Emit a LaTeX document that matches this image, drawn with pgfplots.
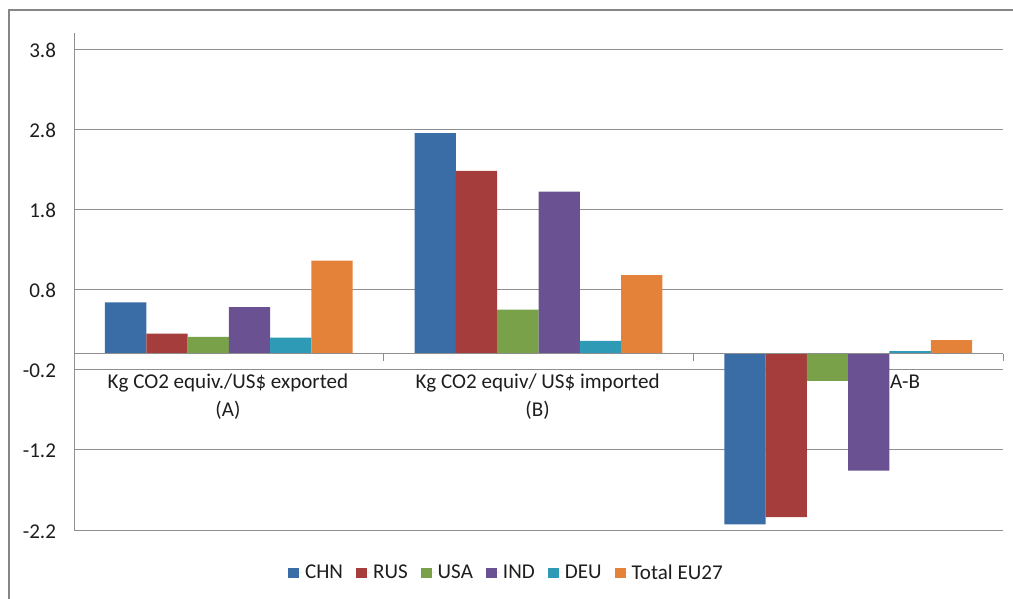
\documentclass[border=0pt]{standalone}
\usepackage{pgfplots}
\pgfplotsset{compat=1.18}
\usepackage{fontspec}
\setmainfont{Carlito}
\definecolor{cchn}{HTML}{3A6CA6}
\definecolor{crus}{HTML}{A63D3D}
\definecolor{cusa}{HTML}{78A14A}
\definecolor{cind}{HTML}{6A5292}
\definecolor{cdeu}{HTML}{2E9AB5}
\definecolor{ceu}{HTML}{E5823A}
\definecolor{cgrid}{HTML}{8E8E8E}
\definecolor{ctext}{HTML}{1E1E1E}
\newcommand{\lblfont}{\fontsize{15.8}{19}\selectfont}
\begin{document}
\begin{tikzpicture}
\useasboundingbox (0,0) rectangle (759.75pt,-449.25pt);
\draw[color=gray!95, line width=1.5pt] (6.5pt,-7.8pt) rectangle (800pt,-500pt);
\begin{axis}[
  at={(55.5pt,-397.5pt)}, anchor=south west,
  scale only axis, width=696.75pt, height=372.75pt,
  xmin=0, xmax=3, ymin=-2.2, ymax=4.0,
  axis x line=none, axis y line=left,
  axis line style={-, draw=cgrid, line width=0.75pt},
  ytick={-2.2,-1.2,-0.2,0.8,1.8,2.8,3.8},
  major tick length=0pt,
  ymajorgrids, grid style={draw=cgrid, line width=0.75pt},
  yticklabel style={/pgf/number format/fixed, /pgf/number format/precision=1,
    /pgf/number format/fixed zerofill, /pgf/number format/assume math mode=true,
    font=\lblfont, text=ctext, anchor=east, xshift=-10pt, yshift=-1pt},
  xtick=\empty,
  clip=false,
  legend columns=6,
  legend style={draw=none, fill=none, font=\lblfont, text=ctext,
    at={(0.466,-0.0865)}, anchor=center,
    /tikz/every even column/.append style={column sep=8pt}},
  legend image code/.code={\fill[#1,draw=none] (0pt,-4pt) rectangle (8pt,4pt); \path (0pt,0pt) -- (10.5pt,0pt);},
]
\addplot[ybar, bar width=0.13333, bar shift=-0.33333, fill=cchn, draw=none]
  coordinates {(0.5,0.64) (1.5,2.75) (2.5,-2.13)};
\addlegendentry{CHN}
\addplot[ybar, bar width=0.13333, bar shift=-0.2, fill=crus, draw=none]
  coordinates {(0.5,0.25) (1.5,2.28) (2.5,-2.04)};
\addlegendentry{RUS}
\addplot[ybar, bar width=0.13333, bar shift=-0.06667, fill=cusa, draw=none]
  coordinates {(0.5,0.21) (1.5,0.55) (2.5,-0.34)};
\addlegendentry{USA}
\addplot[ybar, bar width=0.13333, bar shift=0.06667, fill=cind, draw=none]
  coordinates {(0.5,0.58) (1.5,2.02) (2.5,-1.46)};
\addlegendentry{IND}
\addplot[ybar, bar width=0.13333, bar shift=0.2, fill=cdeu, draw=none]
  coordinates {(0.5,0.20) (1.5,0.16) (2.5,0.03)};
\addlegendentry{DEU}
\addplot[ybar, bar width=0.13333, bar shift=0.33333, fill=ceu, draw=none]
  coordinates {(0.5,1.16) (1.5,0.98) (2.5,0.17)};
\addlegendentry{Total EU27}
% horizontal axis at zero with category boundary ticks
\draw[cgrid, line width=0.75pt] (axis cs:0,0) -- (axis cs:3,0);
\draw[cgrid, line width=0.75pt] (axis cs:1,0) -- ++(0pt,-5.5pt);
\draw[cgrid, line width=0.75pt] (axis cs:2,0) -- ++(0pt,-5.5pt);
\draw[cgrid, line width=0.75pt] (axis cs:3,0) -- ++(0pt,-5.5pt);
% category labels
\node[font=\lblfont, text=ctext, anchor=base, inner sep=0pt] at ([yshift=-26.3pt]axis cs:0.497,0) {Kg CO2 equiv./US\$ exported};
\node[font=\lblfont, text=ctext, anchor=base, inner sep=0pt] at ([yshift=-47.4pt]axis cs:0.497,0) {(A)};
\node[font=\lblfont, text=ctext, anchor=base, inner sep=0pt] at ([yshift=-26.3pt]axis cs:1.497,0) {Kg CO2 equiv/ US\$ imported};
\node[font=\lblfont, text=ctext, anchor=base, inner sep=0pt] at ([yshift=-47.4pt]axis cs:1.497,0) {(B)};
\node[font=\lblfont, text=ctext, anchor=base, inner sep=0pt] at ([yshift=-26.3pt]axis cs:2.684,0) {A-B};
\end{axis}
\end{tikzpicture}
\end{document}
